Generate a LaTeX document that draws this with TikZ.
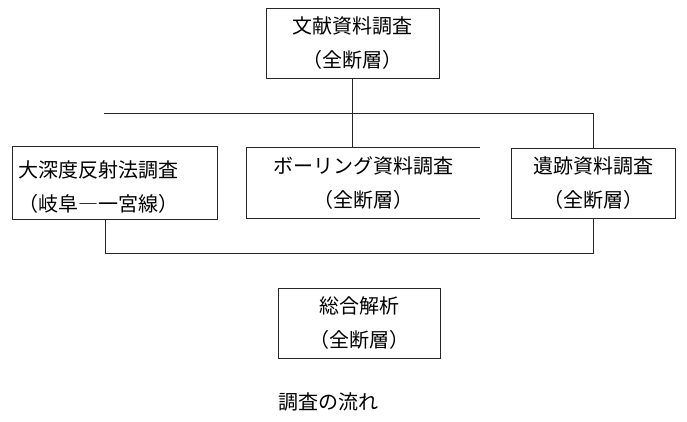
\documentclass[tikz,border=0pt]{standalone}
\usepackage{fontspec}
\setmainfont{Noto Sans CJK JP}
\usetikzlibrary{positioning}

\begin{document}
\begin{tikzpicture}[
    x=1pt, y=1pt,
    node distance=140pt,
    box/.style={rectangle, draw=black!85, line width=0.8pt, minimum height=70pt, align=center, font=\fontsize{20}{34}\selectfont, execute at begin node=\rule{0pt}{25pt}},
    line/.style={black!85, line width=0.8pt}
]
    \useasboundingbox (0,0) rectangle (687,-422);

    % Literature survey
    \node[box, minimum width=173pt] (lit) at (352.5,-43) {文献資料調査\\（全断層）};

    % Surveys
    \node[box, below of=lit, xshift=-238pt, align=left, text width=193pt, inner sep=6pt] (seismic) {大深度反射法調査\\（岐阜―一宮線）};
    \node[box, draw=none, below of=lit, xshift=11pt, minimum width=233pt] (boring) {ボーリング資料調査\\（全断層）};
    \node[box, below of=lit, xshift=240.5pt, minimum width=164pt] (ruins) {遺跡資料調査\\（全断層）};

    % Analysis
    \node[box, below of=boring, xshift=-4.5pt, minimum width=162pt] (analysis) {総合解析\\（全断層）};

    % Caption
    \node[below of=analysis, yshift=61pt, xshift=-31pt, font=\fontsize{20}{24}\selectfont] (caption) {調査の流れ};

    % Lines
    \coordinate (splitL) at (104,-113);
    \coordinate (mergeL) at (105,-253);
    \draw[line] (boring.north east) -- (boring.north west) -- (boring.south west) -- (boring.south east);
    \draw[line] (lit.south) -- (lit.south |- boring.north);
    \draw[line] (splitL) -| (ruins.north);
    \draw[line] (seismic.south -| mergeL) -- (mergeL) -| (ruins.south);
\end{tikzpicture}
\end{document}
